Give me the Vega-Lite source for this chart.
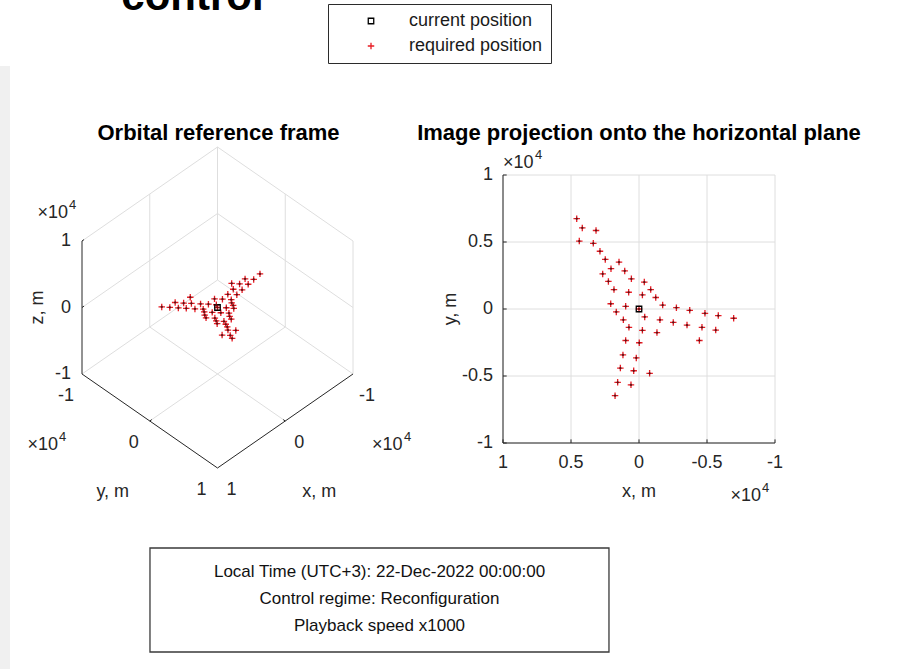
{
  "$schema": "https://vega.github.io/schema/vega-lite/v6.json",
  "width": 897,
  "height": 669,
  "autosize": {"type": "none"},
  "padding": 0,
  "background": "white",
  "config": {
    "view": {"stroke": null},
    "axis": {"disable": true},
    "font": "Liberation Sans",
    "text": {"font": "Liberation Sans", "fontSize": 18, "color": "#262626"},
    "legend": {
      "padding": 8,
      "strokeColor": "#2b2b2b",
      "strokeWidth": 1,
      "fillColor": "white",
      "labelFont": "Liberation Sans",
      "labelFontSize": 18,
      "labelColor": "#1a1a1a",
      "symbolOffset": 26,
      "labelOffset": 29,
      "rowPadding": 7,
      "symbolStrokeWidth": 1.3,
      "symbolFillColor": "transparent"
    }
  },
  "datasets": {
    "pos": [
      {"kind": "required position", "x": 4580, "y": 6740, "z": 3370},
      {"kind": "required position", "x": 4170, "y": 6050, "z": 3030},
      {"kind": "required position", "x": 3160, "y": 5860, "z": 2930},
      {"kind": "required position", "x": 4390, "y": 5070, "z": 2540},
      {"kind": "required position", "x": 3360, "y": 4900, "z": 2450},
      {"kind": "required position", "x": 2870, "y": 4310, "z": 2160},
      {"kind": "required position", "x": 2480, "y": 3700, "z": 1850},
      {"kind": "required position", "x": 1470, "y": 3500, "z": 1750},
      {"kind": "required position", "x": 2060, "y": 3010, "z": 1510},
      {"kind": "required position", "x": 1050, "y": 2840, "z": 1420},
      {"kind": "required position", "x": 2670, "y": 2620, "z": 1310},
      {"kind": "required position", "x": 2250, "y": 2060, "z": 1030},
      {"kind": "required position", "x": 560, "y": 2250, "z": 1130},
      {"kind": "required position", "x": -390, "y": 2010, "z": 1010},
      {"kind": "required position", "x": 1840, "y": 1450, "z": 730},
      {"kind": "required position", "x": 760, "y": 1250, "z": 630},
      {"kind": "required position", "x": -860, "y": 1450, "z": 730},
      {"kind": "required position", "x": -250, "y": 1050, "z": 530},
      {"kind": "required position", "x": -1230, "y": 860, "z": 430},
      {"kind": "required position", "x": 2080, "y": 390, "z": 200},
      {"kind": "required position", "x": 980, "y": 200, "z": 100},
      {"kind": "required position", "x": -1740, "y": 290, "z": 150},
      {"kind": "required position", "x": -2750, "y": 100, "z": 50},
      {"kind": "required position", "x": -3730, "y": -100, "z": -50},
      {"kind": "required position", "x": 1670, "y": -220, "z": -110},
      {"kind": "required position", "x": -4850, "y": -320, "z": -160},
      {"kind": "required position", "x": -5830, "y": -490, "z": -250},
      {"kind": "required position", "x": -6960, "y": -690, "z": -350},
      {"kind": "required position", "x": -420, "y": -590, "z": -300},
      {"kind": "required position", "x": 1150, "y": -810, "z": -410},
      {"kind": "required position", "x": -1540, "y": -810, "z": -410},
      {"kind": "required position", "x": -2520, "y": -1000, "z": -500},
      {"kind": "required position", "x": -3530, "y": -1200, "z": -600},
      {"kind": "required position", "x": -4630, "y": -1370, "z": -690},
      {"kind": "required position", "x": 740, "y": -1370, "z": -690},
      {"kind": "required position", "x": -5640, "y": -1570, "z": -790},
      {"kind": "required position", "x": -250, "y": -1590, "z": -800},
      {"kind": "required position", "x": -1320, "y": -1760, "z": -880},
      {"kind": "required position", "x": 980, "y": -2350, "z": -1180},
      {"kind": "required position", "x": -4440, "y": -2350, "z": -1180},
      {"kind": "required position", "x": -20, "y": -2520, "z": -1260},
      {"kind": "required position", "x": 1180, "y": -3430, "z": -1720},
      {"kind": "required position", "x": 200, "y": -3650, "z": -1830},
      {"kind": "required position", "x": 1370, "y": -4410, "z": -2210},
      {"kind": "required position", "x": 390, "y": -4610, "z": -2310},
      {"kind": "required position", "x": -780, "y": -4800, "z": -2400},
      {"kind": "required position", "x": 1570, "y": -5470, "z": -2740},
      {"kind": "required position", "x": 590, "y": -5660, "z": -2830},
      {"kind": "required position", "x": 1760, "y": -6470, "z": -3240},
      {"kind": "required position", "x": 0, "y": 0, "z": 0},
      {"kind": "current position", "x": 0, "y": 0, "z": 0}
    ],
    "edges3d": [
      {"kind": "grid", "x1": -10000, "y1": -10000, "z1": -10000, "x2": -10000, "y2": 10000, "z2": -10000},
      {"kind": "grid", "x1": -10000, "y1": -10000, "z1": -10000, "x2": 10000, "y2": -10000, "z2": -10000},
      {"kind": "grid", "x1": 0, "y1": -10000, "z1": -10000, "x2": 0, "y2": 10000, "z2": -10000},
      {"kind": "grid", "x1": -10000, "y1": 0, "z1": -10000, "x2": 10000, "y2": 0, "z2": -10000},
      {"kind": "grid", "x1": -10000, "y1": -10000, "z1": -10000, "x2": -10000, "y2": -10000, "z2": 10000},
      {"kind": "grid", "x1": -10000, "y1": 10000, "z1": -10000, "x2": -10000, "y2": 10000, "z2": 10000},
      {"kind": "grid", "x1": -10000, "y1": -10000, "z1": 10000, "x2": -10000, "y2": 10000, "z2": 10000},
      {"kind": "grid", "x1": -10000, "y1": 0, "z1": -10000, "x2": -10000, "y2": 0, "z2": 10000},
      {"kind": "grid", "x1": -10000, "y1": -10000, "z1": 0, "x2": -10000, "y2": 10000, "z2": 0},
      {"kind": "grid", "x1": -10000, "y1": -10000, "z1": 10000, "x2": 10000, "y2": -10000, "z2": 10000},
      {"kind": "grid", "x1": 0, "y1": -10000, "z1": -10000, "x2": 0, "y2": -10000, "z2": 10000},
      {"kind": "grid", "x1": -10000, "y1": -10000, "z1": 0, "x2": 10000, "y2": -10000, "z2": 0},
      {"kind": "axis", "x1": 10000, "y1": -10000, "z1": -10000, "x2": 10000, "y2": -10000, "z2": 10000},
      {"kind": "axis", "x1": 10000, "y1": -10000, "z1": -10000, "x2": 10000, "y2": 10000, "z2": -10000},
      {"kind": "axis", "x1": 10000, "y1": 10000, "z1": -10000, "x2": -10000, "y2": 10000, "z2": -10000},
      {"kind": "axis", "x1": 10000, "y1": 0, "z1": -10000, "x2": 9700, "y2": 0, "z2": -10000},
      {"kind": "axis", "x1": 0, "y1": 10000, "z1": -10000, "x2": 0, "y2": 9700, "z2": -10000},
      {"kind": "axis", "x1": 10000, "y1": -10000, "z1": 0, "x2": 9700, "y2": -10000, "z2": 0},
      {"kind": "axis", "x1": 10000, "y1": -10000, "z1": 10000, "x2": 9700, "y2": -10000, "z2": 10000}
    ],
    "labels3d": [
      {"g": "ytick", "x": 10000, "y": -10000, "z": -10000, "label": "-1"},
      {"g": "ytick", "x": 10000, "y": 0, "z": -10000, "label": "0"},
      {"g": "ytick", "x": 10000, "y": 10000, "z": -10000, "label": "1"},
      {"g": "xtick", "x": 10000, "y": 10000, "z": -10000, "label": "1"},
      {"g": "xtick", "x": 0, "y": 10000, "z": -10000, "label": "0"},
      {"g": "xtick", "x": -10000, "y": 10000, "z": -10000, "label": "-1"},
      {"g": "ztick", "x": 10000, "y": -10000, "z": -10000, "label": "-1"},
      {"g": "ztick", "x": 10000, "y": -10000, "z": 0, "label": "0"},
      {"g": "ztick", "x": 10000, "y": -10000, "z": 10000, "label": "1"},
      {"g": "ytitle", "x": 10000, "y": 0, "z": -10000, "label": "y, m"},
      {"g": "xtitle", "x": 0, "y": 10000, "z": -10000, "label": "x, m"},
      {"g": "ztitle", "x": 10000, "y": -10000, "z": 0, "label": "z, m"},
      {"g": "zexp", "x": 10000, "y": -10000, "z": 10000, "label": "×10", "power": "4"},
      {"g": "yexp", "x": 10000, "y": -10000, "z": -10000, "label": "×10", "power": "4"},
      {"g": "xexp", "x": -10000, "y": 10000, "z": -10000, "label": "×10", "power": "4"},
      {"g": "title", "x": -10000, "y": -10000, "z": 10000, "label": "Orbital reference frame"}
    ],
    "ticks2d": [
      {"t": -10000, "label": "-1"},
      {"t": -5000, "label": "-0.5"},
      {"t": 0, "label": "0"},
      {"t": 5000, "label": "0.5"},
      {"t": 10000, "label": "1"}
    ],
    "notes2d": [
      {"g": "xtitle", "label": "x, m"},
      {"g": "ytitle", "label": "y, m"},
      {"g": "topexp", "label": "×10", "power": "4"},
      {"g": "botexp", "label": "×10", "power": "4"},
      {"g": "title", "label": "Image projection onto the horizontal plane"}
    ]
  },
  "resolve": {"scale": {"x": "independent", "y": "independent"}},
  "layer": [
    {
      "layer": [
        {
          "data": {"values": [{"part": "figure background"}]},
          "mark": {"type": "rect", "fill": "#f0f0f0"},
          "encoding": {
            "x": {"datum": 0, "type": "quantitative", "scale": {"domain": [0, 1], "range": [0, 897], "nice": false, "zero": false}},
            "x2": {"datum": 0.0112},
            "y": {"datum": 0, "type": "quantitative", "scale": {"domain": [0, 1], "range": [669, 0], "nice": false, "zero": false}},
            "y2": {"datum": 0.9013}
          }
        },
        {
          "data": {"values": [{"part": "info box"}]},
          "mark": {"type": "rect", "fill": "white", "stroke": "#3a3a3a", "strokeWidth": 1.3},
          "encoding": {
            "x": {"datum": 0.1672, "type": "quantitative", "scale": {"domain": [0, 1], "range": [0, 897], "nice": false, "zero": false}},
            "x2": {"datum": 0.6789},
            "y": {"datum": 0.0254, "type": "quantitative", "scale": {"domain": [0, 1], "range": [669, 0], "nice": false, "zero": false}},
            "y2": {"datum": 0.1809}
          }
        },
        {
          "data": {"values": [{"lines": ["Local Time (UTC+3): 22-Dec-2022 00:00:00", "Control regime: Reconfiguration", "Playback speed x1000"]}]},
          "mark": {"type": "text", "fontSize": 17, "lineHeight": 27, "align": "center", "baseline": "middle", "color": "#111111"},
          "encoding": {
            "x": {"datum": 0.4231, "type": "quantitative", "scale": {"domain": [0, 1], "range": [0, 897], "nice": false, "zero": false}},
            "y": {"datum": 0.145, "type": "quantitative", "scale": {"domain": [0, 1], "range": [669, 0], "nice": false, "zero": false}},
            "text": {"field": "lines"}
          }
        },
        {
          "data": {"values": [{"label": "control"}]},
          "mark": {"type": "text", "fontSize": 42, "fontWeight": "bold", "align": "center", "baseline": "alphabetic", "color": "#000000"},
          "encoding": {
            "x": {"datum": 0.2146, "type": "quantitative", "scale": {"domain": [0, 1], "range": [0, 897], "nice": false, "zero": false}},
            "y": {"datum": 0.9851, "type": "quantitative", "scale": {"domain": [0, 1], "range": [669, 0], "nice": false, "zero": false}},
            "text": {"field": "label"}
          }
        }
      ]
    },
    {
      "layer": [
        {
          "data": {"name": "edges3d"},
          "transform": [
            {"filter": "datum.kind === 'grid'"},
            {"calculate": "datum.y1 - datum.x1", "as": "u1"},
            {"calculate": "0.9815 * datum.z1 - 0.6937 * (datum.x1 + datum.y1)", "as": "w1"},
            {"calculate": "datum.y2 - datum.x2", "as": "u2"},
            {"calculate": "0.9815 * datum.z2 - 0.6937 * (datum.x2 + datum.y2)", "as": "w2"}
          ],
          "mark": {"type": "rule", "color": "#dedede", "strokeWidth": 1},
          "encoding": {
            "x": {"field": "u1", "type": "quantitative", "scale": {"domain": [-20000, 20000], "range": [82, 353], "nice": false, "zero": false}},
            "y": {"field": "w1", "type": "quantitative", "scale": {"domain": [-20000, 20000], "range": [443, 172], "nice": false, "zero": false}},
            "x2": {"field": "u2"},
            "y2": {"field": "w2"}
          }
        },
        {
          "data": {"name": "edges3d"},
          "transform": [
            {"filter": "datum.kind === 'axis'"},
            {"calculate": "datum.y1 - datum.x1", "as": "u1"},
            {"calculate": "0.9815 * datum.z1 - 0.6937 * (datum.x1 + datum.y1)", "as": "w1"},
            {"calculate": "datum.y2 - datum.x2", "as": "u2"},
            {"calculate": "0.9815 * datum.z2 - 0.6937 * (datum.x2 + datum.y2)", "as": "w2"}
          ],
          "mark": {"type": "rule", "color": "#262626", "strokeWidth": 1},
          "encoding": {
            "x": {"field": "u1", "type": "quantitative", "scale": {"domain": [-20000, 20000], "range": [82, 353], "nice": false, "zero": false}},
            "y": {"field": "w1", "type": "quantitative", "scale": {"domain": [-20000, 20000], "range": [443, 172], "nice": false, "zero": false}},
            "x2": {"field": "u2"},
            "y2": {"field": "w2"}
          }
        },
        {
          "data": {"name": "pos"},
          "transform": [
            {"calculate": "datum.y - datum.x", "as": "u"},
            {"calculate": "0.9815 * datum.z - 0.6937 * (datum.x + datum.y)", "as": "w"}
          ],
          "mark": {"type": "point", "filled": false, "strokeWidth": 1.3, "opacity": 1},
          "encoding": {
            "x": {"field": "u", "type": "quantitative", "scale": {"domain": [-20000, 20000], "range": [82, 353], "nice": false, "zero": false}},
            "y": {"field": "w", "type": "quantitative", "scale": {"domain": [-20000, 20000], "range": [443, 172], "nice": false, "zero": false}},
            "color": {"field": "kind", "type": "nominal", "scale": {"domain": ["current position", "required position"], "range": ["#000000", "#e81c24"]}, "legend": {"title": null, "orient": "none", "legendX": 328, "legendY": 4}},
            "shape": {"field": "kind", "type": "nominal", "scale": {"domain": ["current position", "required position"], "range": ["square", "M-1,0H1M0,-1V1"]}, "legend": {"title": null, "orient": "none", "legendX": 328, "legendY": 4}},
            "size": {"field": "kind", "type": "nominal", "scale": {"domain": ["current position", "required position"], "range": [30, 42]}, "legend": {"title": null, "orient": "none", "legendX": 328, "legendY": 4}}
          }
        },
        {
          "data": {"name": "pos"},
          "transform": [
            {"filter": "datum.kind === 'required position'"},
            {"calculate": "datum.y - datum.x", "as": "u"},
            {"calculate": "0.9815 * datum.z - 0.6937 * (datum.x + datum.y)", "as": "w"}
          ],
          "mark": {"type": "point", "filled": false, "strokeWidth": 1.2, "opacity": 1, "shape": "M-1,0H1M0,-1V1", "size": 5, "color": "#5a1215"},
          "encoding": {
            "x": {"field": "u", "type": "quantitative", "scale": {"domain": [-20000, 20000], "range": [82, 353], "nice": false, "zero": false}},
            "y": {"field": "w", "type": "quantitative", "scale": {"domain": [-20000, 20000], "range": [443, 172], "nice": false, "zero": false}}
          }
        },
        {
          "data": {"name": "labels3d"},
          "transform": [
            {"filter": "datum.g === 'ytick'"},
            {"calculate": "datum.y - datum.x", "as": "u"},
            {"calculate": "0.9815 * datum.z - 0.6937 * (datum.x + datum.y)", "as": "w"}
          ],
          "mark": {"type": "text", "align": "center", "baseline": "middle", "dx": -16, "dy": 22},
          "encoding": {
            "x": {"field": "u", "type": "quantitative", "scale": {"domain": [-20000, 20000], "range": [82, 353], "nice": false, "zero": false}},
            "y": {"field": "w", "type": "quantitative", "scale": {"domain": [-20000, 20000], "range": [443, 172], "nice": false, "zero": false}},
            "text": {"field": "label"}
          }
        },
        {
          "data": {"name": "labels3d"},
          "transform": [
            {"filter": "datum.g === 'xtick'"},
            {"calculate": "datum.y - datum.x", "as": "u"},
            {"calculate": "0.9815 * datum.z - 0.6937 * (datum.x + datum.y)", "as": "w"}
          ],
          "mark": {"type": "text", "align": "center", "baseline": "middle", "dx": 14, "dy": 22},
          "encoding": {
            "x": {"field": "u", "type": "quantitative", "scale": {"domain": [-20000, 20000], "range": [82, 353], "nice": false, "zero": false}},
            "y": {"field": "w", "type": "quantitative", "scale": {"domain": [-20000, 20000], "range": [443, 172], "nice": false, "zero": false}},
            "text": {"field": "label"}
          }
        },
        {
          "data": {"name": "labels3d"},
          "transform": [
            {"filter": "datum.g === 'ztick'"},
            {"calculate": "datum.y - datum.x", "as": "u"},
            {"calculate": "0.9815 * datum.z - 0.6937 * (datum.x + datum.y)", "as": "w"}
          ],
          "mark": {"type": "text", "align": "right", "baseline": "middle", "dx": -11, "dy": 0},
          "encoding": {
            "x": {"field": "u", "type": "quantitative", "scale": {"domain": [-20000, 20000], "range": [82, 353], "nice": false, "zero": false}},
            "y": {"field": "w", "type": "quantitative", "scale": {"domain": [-20000, 20000], "range": [443, 172], "nice": false, "zero": false}},
            "text": {"field": "label"}
          }
        },
        {
          "data": {"name": "labels3d"},
          "transform": [
            {"filter": "datum.g === 'ytitle'"},
            {"calculate": "datum.y - datum.x", "as": "u"},
            {"calculate": "0.9815 * datum.z - 0.6937 * (datum.x + datum.y)", "as": "w"}
          ],
          "mark": {"type": "text", "align": "center", "baseline": "middle", "dx": -37, "dy": 71},
          "encoding": {
            "x": {"field": "u", "type": "quantitative", "scale": {"domain": [-20000, 20000], "range": [82, 353], "nice": false, "zero": false}},
            "y": {"field": "w", "type": "quantitative", "scale": {"domain": [-20000, 20000], "range": [443, 172], "nice": false, "zero": false}},
            "text": {"field": "label"}
          }
        },
        {
          "data": {"name": "labels3d"},
          "transform": [
            {"filter": "datum.g === 'xtitle'"},
            {"calculate": "datum.y - datum.x", "as": "u"},
            {"calculate": "0.9815 * datum.z - 0.6937 * (datum.x + datum.y)", "as": "w"}
          ],
          "mark": {"type": "text", "align": "center", "baseline": "middle", "dx": 34, "dy": 71},
          "encoding": {
            "x": {"field": "u", "type": "quantitative", "scale": {"domain": [-20000, 20000], "range": [82, 353], "nice": false, "zero": false}},
            "y": {"field": "w", "type": "quantitative", "scale": {"domain": [-20000, 20000], "range": [443, 172], "nice": false, "zero": false}},
            "text": {"field": "label"}
          }
        },
        {
          "data": {"name": "labels3d"},
          "transform": [
            {"filter": "datum.g === 'ztitle'"},
            {"calculate": "datum.y - datum.x", "as": "u"},
            {"calculate": "0.9815 * datum.z - 0.6937 * (datum.x + datum.y)", "as": "w"}
          ],
          "mark": {"type": "text", "align": "center", "baseline": "middle", "angle": 270, "dx": 0, "dy": -44},
          "encoding": {
            "x": {"field": "u", "type": "quantitative", "scale": {"domain": [-20000, 20000], "range": [82, 353], "nice": false, "zero": false}},
            "y": {"field": "w", "type": "quantitative", "scale": {"domain": [-20000, 20000], "range": [443, 172], "nice": false, "zero": false}},
            "text": {"field": "label"}
          }
        },
        {
          "data": {"name": "labels3d"},
          "transform": [
            {"filter": "datum.g === 'zexp'"},
            {"calculate": "datum.y - datum.x", "as": "u"},
            {"calculate": "0.9815 * datum.z - 0.6937 * (datum.x + datum.y)", "as": "w"}
          ],
          "mark": {"type": "text", "align": "right", "baseline": "middle", "dx": -14, "dy": -28},
          "encoding": {
            "x": {"field": "u", "type": "quantitative", "scale": {"domain": [-20000, 20000], "range": [82, 353], "nice": false, "zero": false}},
            "y": {"field": "w", "type": "quantitative", "scale": {"domain": [-20000, 20000], "range": [443, 172], "nice": false, "zero": false}},
            "text": {"field": "label"}
          }
        },
        {
          "data": {"name": "labels3d"},
          "transform": [
            {"filter": "datum.g === 'zexp'"},
            {"calculate": "datum.y - datum.x", "as": "u"},
            {"calculate": "0.9815 * datum.z - 0.6937 * (datum.x + datum.y)", "as": "w"}
          ],
          "mark": {"type": "text", "align": "left", "baseline": "middle", "dx": -13, "dy": -36, "fontSize": 13},
          "encoding": {
            "x": {"field": "u", "type": "quantitative", "scale": {"domain": [-20000, 20000], "range": [82, 353], "nice": false, "zero": false}},
            "y": {"field": "w", "type": "quantitative", "scale": {"domain": [-20000, 20000], "range": [443, 172], "nice": false, "zero": false}},
            "text": {"field": "power"}
          }
        },
        {
          "data": {"name": "labels3d"},
          "transform": [
            {"filter": "datum.g === 'yexp'"},
            {"calculate": "datum.y - datum.x", "as": "u"},
            {"calculate": "0.9815 * datum.z - 0.6937 * (datum.x + datum.y)", "as": "w"}
          ],
          "mark": {"type": "text", "align": "right", "baseline": "middle", "dx": -24, "dy": 71},
          "encoding": {
            "x": {"field": "u", "type": "quantitative", "scale": {"domain": [-20000, 20000], "range": [82, 353], "nice": false, "zero": false}},
            "y": {"field": "w", "type": "quantitative", "scale": {"domain": [-20000, 20000], "range": [443, 172], "nice": false, "zero": false}},
            "text": {"field": "label"}
          }
        },
        {
          "data": {"name": "labels3d"},
          "transform": [
            {"filter": "datum.g === 'yexp'"},
            {"calculate": "datum.y - datum.x", "as": "u"},
            {"calculate": "0.9815 * datum.z - 0.6937 * (datum.x + datum.y)", "as": "w"}
          ],
          "mark": {"type": "text", "align": "left", "baseline": "middle", "dx": -23, "dy": 63, "fontSize": 13},
          "encoding": {
            "x": {"field": "u", "type": "quantitative", "scale": {"domain": [-20000, 20000], "range": [82, 353], "nice": false, "zero": false}},
            "y": {"field": "w", "type": "quantitative", "scale": {"domain": [-20000, 20000], "range": [443, 172], "nice": false, "zero": false}},
            "text": {"field": "power"}
          }
        },
        {
          "data": {"name": "labels3d"},
          "transform": [
            {"filter": "datum.g === 'xexp'"},
            {"calculate": "datum.y - datum.x", "as": "u"},
            {"calculate": "0.9815 * datum.z - 0.6937 * (datum.x + datum.y)", "as": "w"}
          ],
          "mark": {"type": "text", "align": "left", "baseline": "middle", "dx": 19, "dy": 71},
          "encoding": {
            "x": {"field": "u", "type": "quantitative", "scale": {"domain": [-20000, 20000], "range": [82, 353], "nice": false, "zero": false}},
            "y": {"field": "w", "type": "quantitative", "scale": {"domain": [-20000, 20000], "range": [443, 172], "nice": false, "zero": false}},
            "text": {"field": "label"}
          }
        },
        {
          "data": {"name": "labels3d"},
          "transform": [
            {"filter": "datum.g === 'xexp'"},
            {"calculate": "datum.y - datum.x", "as": "u"},
            {"calculate": "0.9815 * datum.z - 0.6937 * (datum.x + datum.y)", "as": "w"}
          ],
          "mark": {"type": "text", "align": "left", "baseline": "middle", "dx": 51, "dy": 63, "fontSize": 13},
          "encoding": {
            "x": {"field": "u", "type": "quantitative", "scale": {"domain": [-20000, 20000], "range": [82, 353], "nice": false, "zero": false}},
            "y": {"field": "w", "type": "quantitative", "scale": {"domain": [-20000, 20000], "range": [443, 172], "nice": false, "zero": false}},
            "text": {"field": "power"}
          }
        },
        {
          "data": {"name": "labels3d"},
          "transform": [
            {"filter": "datum.g === 'title'"},
            {"calculate": "datum.y - datum.x", "as": "u"},
            {"calculate": "0.9815 * datum.z - 0.6937 * (datum.x + datum.y)", "as": "w"}
          ],
          "mark": {"type": "text", "align": "center", "baseline": "alphabetic", "dx": 1, "dy": -7, "fontSize": 22, "fontWeight": "bold", "color": "#000000"},
          "encoding": {
            "x": {"field": "u", "type": "quantitative", "scale": {"domain": [-20000, 20000], "range": [82, 353], "nice": false, "zero": false}},
            "y": {"field": "w", "type": "quantitative", "scale": {"domain": [-20000, 20000], "range": [443, 172], "nice": false, "zero": false}},
            "text": {"field": "label"}
          }
        }
      ]
    },
    {
      "layer": [
        {
          "data": {"name": "ticks2d"},
          "mark": {"type": "rule", "color": "#dedede", "strokeWidth": 1},
          "encoding": {
            "x": {"field": "t", "type": "quantitative", "scale": {"domain": [-10000, 10000], "range": [775, 503], "nice": false, "zero": false}},
            "y": {"datum": -10000, "type": "quantitative", "scale": {"domain": [-10000, 10000], "range": [443, 175], "nice": false, "zero": false}},
            "y2": {"datum": 10000}
          }
        },
        {
          "data": {"name": "ticks2d"},
          "mark": {"type": "rule", "color": "#dedede", "strokeWidth": 1},
          "encoding": {
            "y": {"field": "t", "type": "quantitative", "scale": {"domain": [-10000, 10000], "range": [443, 175], "nice": false, "zero": false}},
            "x": {"datum": -10000, "type": "quantitative", "scale": {"domain": [-10000, 10000], "range": [775, 503], "nice": false, "zero": false}},
            "x2": {"datum": 10000}
          }
        },
        {
          "data": {"values": [{"edge": "left"}]},
          "mark": {"type": "rule", "color": "#262626", "strokeWidth": 1},
          "encoding": {
            "x": {"datum": 10000, "type": "quantitative", "scale": {"domain": [-10000, 10000], "range": [775, 503], "nice": false, "zero": false}},
            "y": {"datum": -10000, "type": "quantitative", "scale": {"domain": [-10000, 10000], "range": [443, 175], "nice": false, "zero": false}},
            "y2": {"datum": 10000}
          }
        },
        {
          "data": {"values": [{"edge": "bottom"}]},
          "mark": {"type": "rule", "color": "#262626", "strokeWidth": 1},
          "encoding": {
            "y": {"datum": -10000, "type": "quantitative", "scale": {"domain": [-10000, 10000], "range": [443, 175], "nice": false, "zero": false}},
            "x": {"datum": -10000, "type": "quantitative", "scale": {"domain": [-10000, 10000], "range": [775, 503], "nice": false, "zero": false}},
            "x2": {"datum": 10000}
          }
        },
        {
          "data": {"name": "ticks2d"},
          "mark": {"type": "rule", "color": "#262626", "strokeWidth": 1},
          "encoding": {
            "x": {"field": "t", "type": "quantitative", "scale": {"domain": [-10000, 10000], "range": [775, 503], "nice": false, "zero": false}},
            "y": {"datum": -10000, "type": "quantitative", "scale": {"domain": [-10000, 10000], "range": [443, 175], "nice": false, "zero": false}},
            "y2": {"datum": -9730}
          }
        },
        {
          "data": {"name": "ticks2d"},
          "mark": {"type": "rule", "color": "#262626", "strokeWidth": 1},
          "encoding": {
            "y": {"field": "t", "type": "quantitative", "scale": {"domain": [-10000, 10000], "range": [443, 175], "nice": false, "zero": false}},
            "x": {"datum": 10000, "type": "quantitative", "scale": {"domain": [-10000, 10000], "range": [775, 503], "nice": false, "zero": false}},
            "x2": {"datum": 9730}
          }
        },
        {
          "data": {"name": "ticks2d"},
          "mark": {"type": "text", "align": "center", "baseline": "middle", "dy": 20},
          "encoding": {
            "x": {"field": "t", "type": "quantitative", "scale": {"domain": [-10000, 10000], "range": [775, 503], "nice": false, "zero": false}},
            "y": {"datum": -10000, "type": "quantitative", "scale": {"domain": [-10000, 10000], "range": [443, 175], "nice": false, "zero": false}},
            "text": {"field": "label"}
          }
        },
        {
          "data": {"name": "ticks2d"},
          "mark": {"type": "text", "align": "right", "baseline": "middle", "dx": -10},
          "encoding": {
            "y": {"field": "t", "type": "quantitative", "scale": {"domain": [-10000, 10000], "range": [443, 175], "nice": false, "zero": false}},
            "x": {"datum": 10000, "type": "quantitative", "scale": {"domain": [-10000, 10000], "range": [775, 503], "nice": false, "zero": false}},
            "text": {"field": "label"}
          }
        },
        {
          "data": {"name": "notes2d"},
          "transform": [{"filter": "datum.g === 'xtitle'"}],
          "mark": {"type": "text", "align": "center", "baseline": "middle", "dy": 49},
          "encoding": {
            "x": {"datum": 0, "type": "quantitative", "scale": {"domain": [-10000, 10000], "range": [775, 503], "nice": false, "zero": false}},
            "y": {"datum": -10000, "type": "quantitative", "scale": {"domain": [-10000, 10000], "range": [443, 175], "nice": false, "zero": false}},
            "text": {"field": "label"}
          }
        },
        {
          "data": {"name": "notes2d"},
          "transform": [{"filter": "datum.g === 'ytitle'"}],
          "mark": {"type": "text", "align": "center", "baseline": "middle", "angle": 270, "dx": 0, "dy": -52},
          "encoding": {
            "x": {"datum": 10000, "type": "quantitative", "scale": {"domain": [-10000, 10000], "range": [775, 503], "nice": false, "zero": false}},
            "y": {"datum": 0, "type": "quantitative", "scale": {"domain": [-10000, 10000], "range": [443, 175], "nice": false, "zero": false}},
            "text": {"field": "label"}
          }
        },
        {
          "data": {"name": "notes2d"},
          "transform": [{"filter": "datum.g === 'topexp'"}],
          "mark": {"type": "text", "align": "left", "baseline": "middle", "dx": 0, "dy": -12},
          "encoding": {
            "x": {"datum": 10000, "type": "quantitative", "scale": {"domain": [-10000, 10000], "range": [775, 503], "nice": false, "zero": false}},
            "y": {"datum": 10000, "type": "quantitative", "scale": {"domain": [-10000, 10000], "range": [443, 175], "nice": false, "zero": false}},
            "text": {"field": "label"}
          }
        },
        {
          "data": {"name": "notes2d"},
          "transform": [{"filter": "datum.g === 'topexp'"}],
          "mark": {"type": "text", "align": "left", "baseline": "middle", "dx": 32, "dy": -20, "fontSize": 13},
          "encoding": {
            "x": {"datum": 10000, "type": "quantitative", "scale": {"domain": [-10000, 10000], "range": [775, 503], "nice": false, "zero": false}},
            "y": {"datum": 10000, "type": "quantitative", "scale": {"domain": [-10000, 10000], "range": [443, 175], "nice": false, "zero": false}},
            "text": {"field": "power"}
          }
        },
        {
          "data": {"name": "notes2d"},
          "transform": [{"filter": "datum.g === 'botexp'"}],
          "mark": {"type": "text", "align": "right", "baseline": "middle", "dx": -14, "dy": 53},
          "encoding": {
            "x": {"datum": -10000, "type": "quantitative", "scale": {"domain": [-10000, 10000], "range": [775, 503], "nice": false, "zero": false}},
            "y": {"datum": -10000, "type": "quantitative", "scale": {"domain": [-10000, 10000], "range": [443, 175], "nice": false, "zero": false}},
            "text": {"field": "label"}
          }
        },
        {
          "data": {"name": "notes2d"},
          "transform": [{"filter": "datum.g === 'botexp'"}],
          "mark": {"type": "text", "align": "left", "baseline": "middle", "dx": -13, "dy": 45, "fontSize": 13},
          "encoding": {
            "x": {"datum": -10000, "type": "quantitative", "scale": {"domain": [-10000, 10000], "range": [775, 503], "nice": false, "zero": false}},
            "y": {"datum": -10000, "type": "quantitative", "scale": {"domain": [-10000, 10000], "range": [443, 175], "nice": false, "zero": false}},
            "text": {"field": "power"}
          }
        },
        {
          "data": {"name": "notes2d"},
          "transform": [{"filter": "datum.g === 'title'"}],
          "mark": {"type": "text", "align": "center", "baseline": "alphabetic", "dy": -35, "fontSize": 22, "fontWeight": "bold", "color": "#000000"},
          "encoding": {
            "x": {"datum": 0, "type": "quantitative", "scale": {"domain": [-10000, 10000], "range": [775, 503], "nice": false, "zero": false}},
            "y": {"datum": 10000, "type": "quantitative", "scale": {"domain": [-10000, 10000], "range": [443, 175], "nice": false, "zero": false}},
            "text": {"field": "label"}
          }
        },
        {
          "data": {"name": "pos"},
          "mark": {"type": "point", "filled": false, "strokeWidth": 1.3, "opacity": 1},
          "encoding": {
            "x": {"field": "x", "type": "quantitative", "scale": {"domain": [-10000, 10000], "range": [775, 503], "nice": false, "zero": false}},
            "y": {"field": "y", "type": "quantitative", "scale": {"domain": [-10000, 10000], "range": [443, 175], "nice": false, "zero": false}},
            "color": {"field": "kind", "type": "nominal", "scale": {"domain": ["current position", "required position"], "range": ["#000000", "#e81c24"]}, "legend": {"title": null, "orient": "none", "legendX": 328, "legendY": 4}},
            "shape": {"field": "kind", "type": "nominal", "scale": {"domain": ["current position", "required position"], "range": ["square", "M-1,0H1M0,-1V1"]}, "legend": {"title": null, "orient": "none", "legendX": 328, "legendY": 4}},
            "size": {"field": "kind", "type": "nominal", "scale": {"domain": ["current position", "required position"], "range": [30, 42]}, "legend": {"title": null, "orient": "none", "legendX": 328, "legendY": 4}}
          }
        },
        {
          "data": {"name": "pos"},
          "transform": [{"filter": "datum.kind === 'required position'"}],
          "mark": {"type": "point", "filled": false, "strokeWidth": 1.2, "opacity": 1, "shape": "M-1,0H1M0,-1V1", "size": 5, "color": "#5a1215"},
          "encoding": {
            "x": {"field": "x", "type": "quantitative", "scale": {"domain": [-10000, 10000], "range": [775, 503], "nice": false, "zero": false}},
            "y": {"field": "y", "type": "quantitative", "scale": {"domain": [-10000, 10000], "range": [443, 175], "nice": false, "zero": false}}
          }
        }
      ]
    }
  ]
}
